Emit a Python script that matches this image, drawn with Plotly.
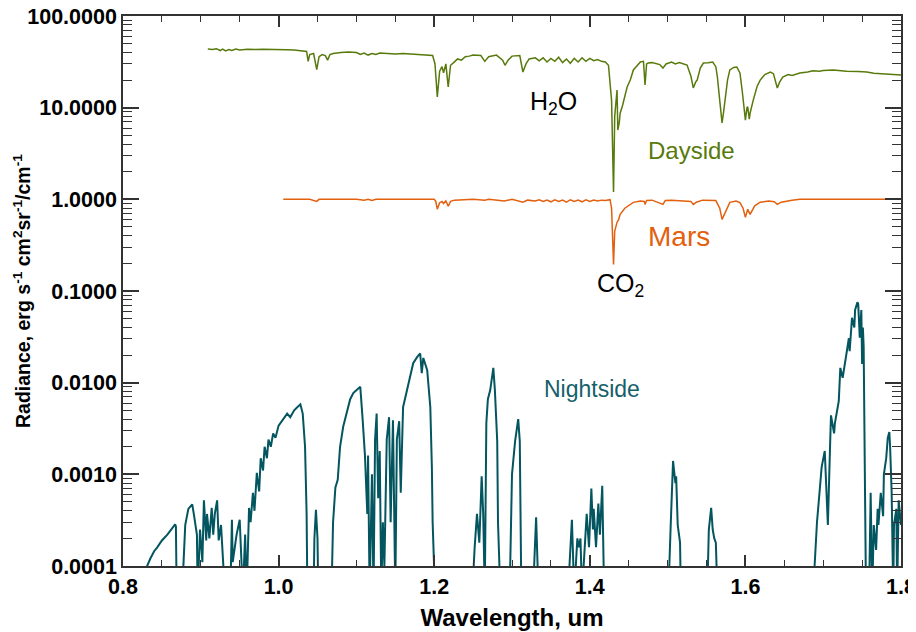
import plotly.graph_objects as go

# ---------------- data ----------------
day_wl = [0.909, 0.915, 0.920, 0.925, 0.928, 0.932, 0.936, 0.940, 0.945, 0.950, 0.960, 0.970, 0.980, 0.990,
          1.000, 1.010, 1.020, 1.030, 1.036, 1.038, 1.040, 1.045, 1.049, 1.052, 1.056, 1.060, 1.063, 1.066,
          1.070, 1.080, 1.090, 1.100, 1.105, 1.110, 1.115, 1.120, 1.125, 1.130, 1.140, 1.150, 1.160, 1.170,
          1.180, 1.190, 1.198, 1.201, 1.204, 1.207, 1.210, 1.212, 1.215, 1.218, 1.221, 1.225, 1.230, 1.235,
          1.240, 1.245, 1.250, 1.260, 1.265, 1.270, 1.280, 1.288, 1.291, 1.295, 1.300, 1.310, 1.314, 1.318,
          1.322, 1.330, 1.335, 1.340, 1.345, 1.350, 1.355, 1.360, 1.365, 1.370, 1.375, 1.380, 1.385, 1.390,
          1.395, 1.400, 1.405, 1.410, 1.415, 1.420, 1.424, 1.428, 1.4305, 1.432, 1.434, 1.435, 1.436, 1.438,
          1.439, 1.442, 1.448, 1.452, 1.456, 1.460, 1.465, 1.469, 1.471, 1.473, 1.475, 1.480, 1.485, 1.490,
          1.494, 1.498, 1.505, 1.510, 1.515, 1.520, 1.525, 1.530, 1.533, 1.536, 1.538, 1.542, 1.546, 1.552,
          1.558, 1.562, 1.564, 1.567, 1.570, 1.572, 1.574, 1.577, 1.580, 1.585, 1.589, 1.593, 1.596, 1.600,
          1.602, 1.603, 1.605, 1.606, 1.610, 1.615, 1.619, 1.625, 1.632, 1.636, 1.641, 1.644, 1.648, 1.655,
          1.660, 1.670, 1.680, 1.687, 1.695, 1.700, 1.713, 1.730, 1.745, 1.756, 1.765, 1.777, 1.790, 1.800]
day_val = [43.6, 43.0, 44.0, 42.0, 43.5, 41.5, 43.0, 42.0, 43.5, 42.5, 43.5, 43.0, 43.5, 43.0,
           43.3, 42.8, 42.5, 42.0, 41.0, 32.0, 38.0, 39.0, 26.0, 36.0, 38.0, 37.0, 33.0, 38.0,
           39.0, 40.0, 40.5, 40.0, 38.0, 39.5, 37.5, 39.0, 38.0, 39.5, 39.0, 38.5, 39.0, 38.5,
           38.5, 38.0, 37.0, 30.0, 13.1, 25.0, 28.0, 24.0, 30.0, 16.8, 29.0, 31.0, 34.0, 33.0,
           36.0, 36.5, 37.5, 37.0, 32.0, 36.0, 37.5, 33.0, 29.0, 33.0, 36.5, 37.0, 24.5, 30.0,
           34.0, 35.0, 32.5, 35.0, 31.5, 34.5, 32.0, 35.5, 31.0, 34.0, 30.5, 34.5, 31.5, 35.0,
           32.0, 34.5, 32.5, 33.5, 32.0, 31.5, 29.0, 12.0, 1.2, 8.0, 12.0, 15.6, 5.7, 7.0,
           8.7, 10.5, 16.8, 20.0, 25.8, 28.5, 31.5, 32.0, 17.7, 30.0, 30.7, 31.0, 30.5, 29.5,
           27.0, 30.0, 31.5, 30.0, 31.0, 30.0, 29.2, 22.0, 16.4, 19.0, 20.0, 27.0, 30.7, 31.0,
           31.5, 28.0, 21.6, 12.0, 6.8, 9.0, 12.1, 20.0, 25.8, 27.5, 27.8, 23.9, 15.0, 7.3,
           10.0, 10.2, 7.5, 8.7, 12.0, 17.0, 20.0, 23.0, 24.5, 23.5, 16.4, 19.0, 21.6, 23.0,
           22.5, 23.9, 24.5, 25.3, 25.0, 25.5, 25.8, 25.0, 24.8, 24.5, 23.8, 23.3, 23.0, 22.7]

mars_wl = [1.006, 1.030, 1.040, 1.049, 1.052, 1.100, 1.110, 1.115, 1.120, 1.125, 1.200, 1.202, 1.204, 1.207,
           1.210, 1.212, 1.215, 1.218, 1.221, 1.226, 1.235, 1.250, 1.265, 1.270, 1.290, 1.295, 1.300, 1.314,
           1.320, 1.330, 1.335, 1.340, 1.345, 1.350, 1.355, 1.360, 1.365, 1.370, 1.375, 1.380, 1.385, 1.390,
           1.395, 1.400, 1.405, 1.410, 1.415, 1.420, 1.426, 1.428, 1.4305, 1.432, 1.435, 1.437, 1.439, 1.445,
           1.452, 1.456, 1.465, 1.470, 1.471, 1.473, 1.480, 1.494, 1.497, 1.505, 1.530, 1.533, 1.537, 1.545,
           1.562, 1.567, 1.570, 1.574, 1.578, 1.580, 1.588, 1.593, 1.597, 1.600, 1.603, 1.606, 1.612, 1.619,
           1.630, 1.637, 1.641, 1.646, 1.660, 1.670, 1.800]
mars_val = [1.0, 1.0, 1.0, 0.95, 1.0, 1.0, 0.98, 1.0, 0.97, 1.0, 1.0, 0.95, 0.78, 0.92,
            0.95, 0.9, 0.96, 0.84, 0.95, 0.98, 0.99, 1.0, 0.98, 1.0, 0.96, 0.98, 1.0, 0.93,
            0.98, 0.96, 0.99, 0.95, 0.98, 0.94, 0.99, 0.95, 0.98, 0.93, 0.99, 0.95, 0.98, 0.94,
            0.99, 0.95, 0.98, 0.96, 0.98, 0.97, 0.99, 0.8, 0.195, 0.45, 0.56, 0.6, 0.686, 0.8,
            0.88, 0.927, 0.96, 0.95, 0.88, 0.97, 0.98, 0.88, 0.97, 0.98, 0.95, 0.88, 0.93, 0.98,
            0.97, 0.8, 0.605, 0.72, 0.85, 0.927, 0.96, 0.92, 0.8, 0.636, 0.778, 0.686, 0.85, 0.93,
            0.96, 0.94, 0.88, 0.93, 0.98, 1.0, 1.0]

night_wl = [0.829, 0.831, 0.835, 0.840, 0.844, 0.850, 0.857, 0.862, 0.867, 0.868, 0.869, 0.876, 0.880, 0.884,
            0.889, 0.891, 0.895, 0.896, 0.899, 0.902, 0.904, 0.907, 0.908, 0.911, 0.914, 0.916, 0.918, 0.921,
            0.923, 0.926, 0.929, 0.931, 0.938, 0.940, 0.941, 0.946, 0.950, 0.954, 0.957, 0.959, 0.962, 0.964,
            0.967, 0.969, 0.972, 0.975, 0.977, 0.980, 0.982, 0.985, 0.987, 0.990, 0.993, 0.996, 1.000, 1.005,
            1.011, 1.015, 1.020, 1.024, 1.028, 1.031, 1.034, 1.036, 1.037, 1.045, 1.046, 1.048, 1.050, 1.051,
            1.068, 1.070, 1.073, 1.076, 1.079, 1.083, 1.088, 1.092, 1.096, 1.102, 1.105, 1.108, 1.111, 1.114,
            1.115, 1.117, 1.120, 1.122, 1.124, 1.126, 1.128, 1.130, 1.132, 1.134, 1.136, 1.139, 1.142, 1.144,
            1.147, 1.150, 1.152, 1.155, 1.157, 1.160, 1.165, 1.169, 1.173, 1.178, 1.182, 1.184, 1.186, 1.191,
            1.195, 1.197, 1.198, 1.201, 1.249, 1.252, 1.255, 1.258, 1.261, 1.263, 1.265, 1.267, 1.269, 1.272,
            1.274, 1.276, 1.278, 1.281, 1.282, 1.285, 1.297, 1.300, 1.304, 1.308, 1.310, 1.312, 1.327, 1.331,
            1.334, 1.372, 1.377, 1.380, 1.384, 1.386, 1.388, 1.390, 1.396, 1.399, 1.402, 1.404, 1.405, 1.408,
            1.411, 1.413, 1.416, 1.418, 1.421, 1.501, 1.504, 1.506, 1.507, 1.510, 1.511, 1.513, 1.516, 1.517,
            1.551, 1.553, 1.556, 1.558, 1.560, 1.562, 1.564, 1.687, 1.692, 1.696, 1.698, 1.702, 1.705, 1.706,
            1.709, 1.710, 1.714, 1.715, 1.720, 1.722, 1.725, 1.728, 1.733, 1.734, 1.737, 1.740, 1.741, 1.744,
            1.745, 1.747, 1.749, 1.750, 1.751, 1.752, 1.754, 1.755, 1.759, 1.761, 1.763, 1.765, 1.768, 1.770,
            1.771, 1.774, 1.777, 1.778, 1.781, 1.783, 1.785, 1.786, 1.788, 1.790, 1.791, 1.794, 1.795, 1.797,
            1.800]
night_val = [5e-5, 1.0e-4, 1.2e-4, 1.45e-4, 1.6e-4, 1.9e-4, 2.2e-4, 2.5e-4, 2.85e-4, 2.7e-4, 5e-5, 5e-5, 2.8e-4, 4.2e-4,
             4.7e-4, 3.7e-4, 2.2e-4, 5e-5, 2.5e-4, 1.1e-4, 5.2e-4, 1.9e-4, 3.7e-4, 2.0e-4, 4.3e-4, 2.2e-4, 3.7e-4, 5.2e-4,
             1.9e-4, 2.8e-4, 1.2e-4, 5e-5, 5e-5, 3.2e-4, 1.1e-4, 2.2e-4, 3.2e-4, 5e-5, 2.2e-4, 5e-5, 4.3e-4, 3.0e-4,
             6.3e-4, 4.0e-4, 1.04e-3, 6.5e-4, 1.5e-3, 1.1e-3, 2.0e-3, 1.5e-3, 2.4e-3, 2.0e-3, 2.8e-3, 2.5e-3, 3.4e-3, 3.9e-3,
             4.6e-3, 4.2e-3, 5.0e-3, 5.4e-3, 5.8e-3, 4.6e-3, 2.0e-3, 3.7e-4, 5e-5, 5e-5, 2.0e-4, 4.1e-4, 2.0e-4, 5e-5,
             5e-5, 3.0e-4, 7.2e-4, 8.7e-4, 2.0e-3, 3.3e-3, 5.0e-3, 6.6e-3, 7.7e-3, 8.7e-3, 9.0e-3, 4.0e-3, 1.6e-3, 3.7e-4,
             1.6e-3, 5e-5, 1.0e-3, 5e-5, 2.4e-3, 4.6e-3, 5.5e-4, 1.8e-3, 5e-5, 3.0e-4, 1.0e-4, 2.4e-3, 4.2e-3, 3.0e-4,
             3.9e-3, 5e-5, 2.4e-3, 3.8e-3, 6.3e-4, 5.4e-3, 8.3e-3, 1.15e-2, 1.63e-2, 1.9e-2, 2.08e-2, 1.27e-2, 1.86e-2, 1.37e-2,
             5.4e-3, 1.2e-3, 3.0e-4, 5e-5, 5e-5, 1.6e-4, 3.7e-4, 1.8e-4, 9.5e-4, 3.7e-4, 5e-5, 3.6e-3, 6.6e-3, 8.3e-3,
             1.05e-2, 1.45e-2, 8.3e-3, 2.3e-3, 3.0e-4, 5e-5, 5e-5, 1.0e-3, 2.3e-3, 4.0e-3, 2.3e-3, 5e-5, 5e-5, 3.4e-4,
             5e-5, 5e-5, 3.2e-4, 5e-5, 2.0e-4, 1.6e-4, 2.0e-4, 5e-5, 3.7e-4, 1.6e-4, 7.0e-4, 2.5e-4, 4.2e-4, 1.6e-4,
             4.8e-4, 2.2e-4, 7.5e-4, 8e-5, 5e-5, 5e-5, 2.8e-4, 1.3e-3, 1.4e-3, 8.0e-4, 9.5e-4, 2.8e-4, 1.8e-4, 5e-5,
             5e-5, 2.5e-4, 4.3e-4, 2.5e-4, 2.0e-4, 1.8e-4, 5e-5, 5e-5, 3.0e-4, 7.5e-4, 1.2e-3, 1.8e-3, 4.4e-4, 2.8e-4,
             2.3e-3, 4.4e-3, 2.8e-3, 3.6e-3, 6.3e-3, 1.45e-2, 1.13e-2, 1.58e-2, 3.05e-2, 2.2e-2, 5.1e-2, 4.0e-2, 6.2e-2, 7.55e-2,
             7.2e-2, 3.1e-2, 6.2e-2, 1.6e-2, 4.0e-2, 2.5e-2, 1.5e-3, 5e-5, 5e-5, 6.3e-4, 5e-5, 2.8e-4, 1.5e-4, 4.2e-4,
             2.8e-4, 6.3e-4, 3.5e-4, 1.0e-3, 1.5e-3, 2.5e-3, 2.9e-3, 2.0e-3, 6.3e-4, 5e-5, 2.8e-4, 4.2e-4, 5e-5, 5.2e-4,
             2.8e-4]

y_tickvals = [1e-4, 1e-3, 1e-2, 1e-1, 1, 10, 100]
y_ticktext = ["0.0001", "0.0010", "0.0100", "0.1000", "1.0000", "10.0000", "100.0000"]
x_tickvals = [0.8, 1.0, 1.2, 1.4, 1.6, 1.8]
x_ticktext = ["0.8", "1.0", "1.2", "1.4", "1.6", "1.8"]

# ---------------- styling ----------------
C_DAY = "#587a0c"
C_MARS = "#e3600e"
C_NIGHT = "#03555f"
FONT = "Liberation Sans, Arial, sans-serif"

fig = go.Figure()
fig.add_trace(go.Scatter(x=night_wl, y=night_val, mode="lines",
                         line=dict(color=C_NIGHT, width=2), showlegend=False))
fig.add_trace(go.Scatter(x=day_wl, y=day_val, mode="lines",
                         line=dict(color=C_DAY, width=1.5), showlegend=False))
fig.add_trace(go.Scatter(x=mars_wl, y=mars_val, mode="lines",
                         line=dict(color=C_MARS, width=1.5), showlegend=False))

annots = [
    dict(text="H<sub>2</sub>O", x=1.353, y=1.051, color="black", size=25),
    dict(text="Dayside", x=1.531, y=0.538, color=C_DAY, size=24),
    dict(text="Mars", x=1.515, y=-0.40, color=C_MARS, size=28),
    dict(text="CO<sub>2</sub>", x=1.440, y=-0.934, color="black", size=25),
    dict(text="Nightside", x=1.403, y=-2.069, color="#165f6b", size=23),
]
for a in annots:
    fig.add_annotation(x=a["x"], y=a["y"], xref="x", yref="y", text=a["text"], showarrow=False,
                       font=dict(family=FONT, size=a["size"], color=a["color"]),
                       xanchor="center", yanchor="middle")

# y-axis title placed as a rotated annotation for exact positioning
fig.add_annotation(x=-0.1298, y=0.5, xref="paper", yref="paper", textangle=-90, showarrow=False,
                   text="Radiance, erg s<sup>-1</sup> cm<sup>2</sup>sr<sup>-1</sup>/cm<sup>-1</sup>",
                   font=dict(family=FONT, size=19.5, color="black", weight="bold"),
                   xanchor="center", yanchor="middle")

minor_y = [m * 10.0 ** e for e in range(-4, 2) for m in range(2, 10)]
minor_x = [0.85, 0.9, 0.95, 1.05, 1.1, 1.15, 1.25, 1.3, 1.35, 1.45, 1.5, 1.55, 1.65, 1.7, 1.75]

fig.update_xaxes(range=[0.8, 1.8], tickvals=x_tickvals, ticktext=x_ticktext, automargin=False,
                 ticklabeloverflow="allow",
                 ticks="inside", ticklen=11, tickwidth=1.5, tickcolor="#333",
                 showline=True, linecolor="#333", linewidth=1.5, mirror="ticks",
                 showgrid=False, zeroline=False,
                 tickfont=dict(family=FONT, size=21.5, color="black", weight="bold"),
                 minor=dict(tickvals=minor_x, ticks="inside", ticklen=6, tickwidth=1.2, tickcolor="#333"),
                 title=dict(text="Wavelength, um", font=dict(family=FONT, size=24, color="black", weight="bold"),
                            standoff=12))
fig.update_yaxes(type="log", range=[-4, 2], tickvals=y_tickvals, ticktext=y_ticktext, automargin=False,
                 ticklabeloverflow="allow",
                 ticks="inside", ticklen=16, tickwidth=1.5, tickcolor="#333",
                 showline=True, linecolor="#333", linewidth=1.5, mirror="ticks",
                 showgrid=False, zeroline=False,
                 tickfont=dict(family=FONT, size=21.5, color="black", weight="bold"),
                 minor=dict(tickvals=minor_y, ticks="inside", ticklen=9, tickwidth=1.2, tickcolor="#333"))

fig.update_layout(width=916, height=632, margin=dict(l=115, r=23, t=8, b=74),
                  plot_bgcolor="white", paper_bgcolor="white", showlegend=False)

fig.write_html("out.html")
